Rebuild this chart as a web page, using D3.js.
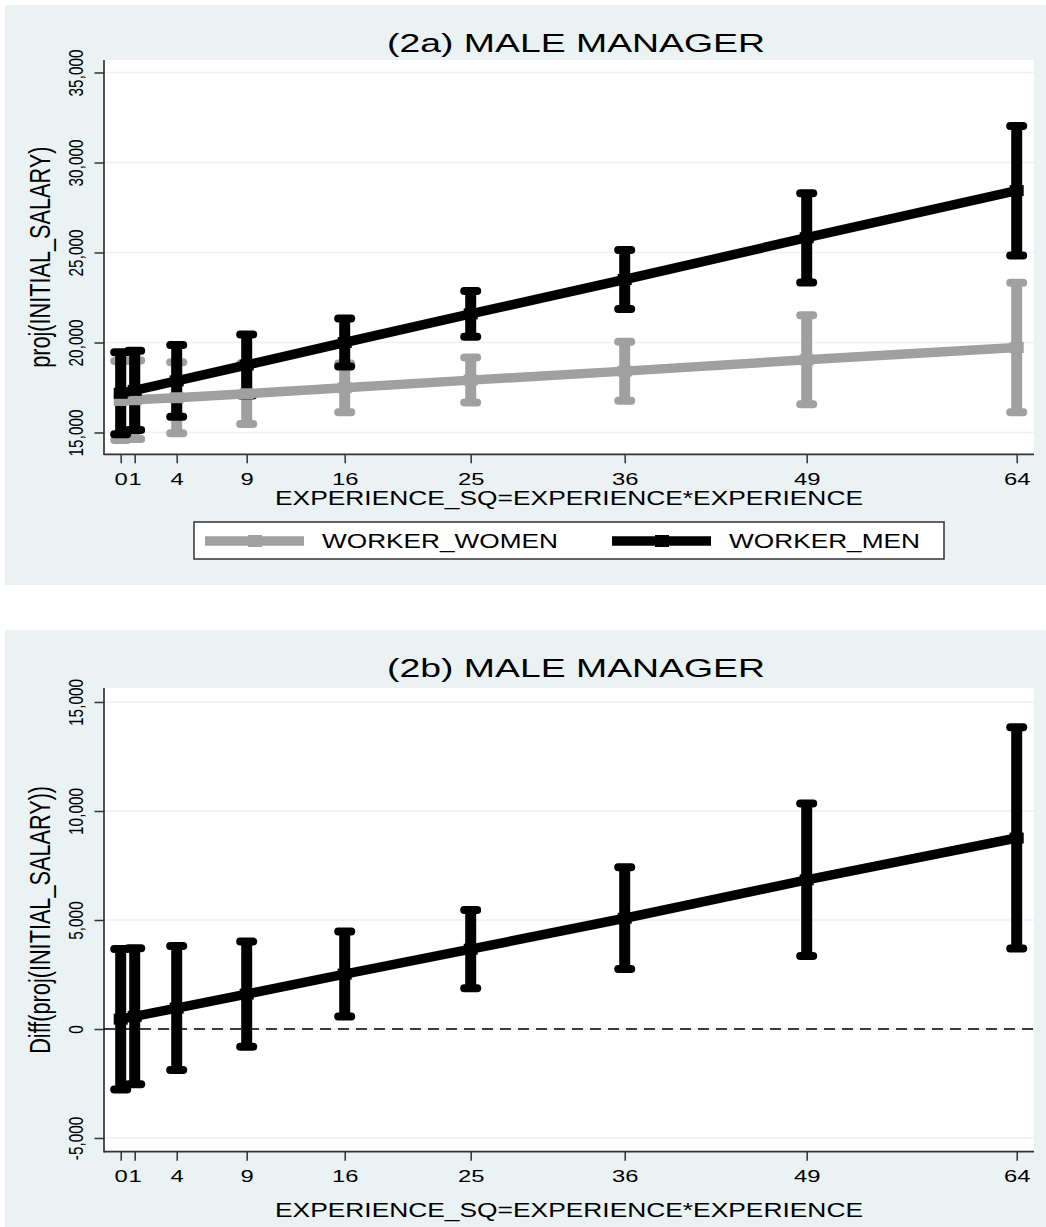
<!DOCTYPE html>
<html>
<head>
<meta charset="utf-8">
<script src="https://cdn.jsdelivr.net/npm/d3@7"></script>
<style>
body { margin: 0; background: #fff; }
text { font-family: "Liberation Sans", Arial, sans-serif; fill: #000; }
</style>
</head>
<body>
<svg id="chart" width="1046" height="1227"></svg>
<script>
// values
const experience = [0, 1, 4, 9, 16, 25, 36, 49, 64];

const womenMean = [16780, 16820, 16930, 17150, 17480, 17910, 18410, 19040, 19720];
const womenLo   = [14580, 14640, 14960, 15470, 16120, 16660, 16770, 16570, 16120];
const womenHi   = [18970, 19000, 18900, 18830, 18840, 19160, 20040, 21510, 23320];

const menMean = [17180, 17340, 17870, 18750, 20000, 21590, 23500, 25820, 28440];
const menLo   = [14900, 15140, 15880, 17050, 18660, 20320, 21860, 23340, 24840];
const menHi   = [19460, 19540, 19860, 20450, 21340, 22860, 25140, 28290, 32030];

const diffMean = [450, 580, 960, 1600, 2520, 3660, 5080, 6840, 8760];
const diffLo   = [-2770, -2540, -1880, -810, 570, 1870, 2750, 3350, 3690];
const diffHi   = [3670, 3700, 3810, 4010, 4470, 5460, 7420, 10340, 13840];

const yTicksTop = [15000, 20000, 25000, 30000, 35000];
const yTicksBottom = [-5000, 0, 5000, 10000, 15000];
const legendLabels = ["WORKER_WOMEN", "WORKER_MEN"];

const BG = "#eaf2f3", GREY = "#a0a0a0", BLACK = "#000", AXIS = "#333";
const SX = 1.4;   // the source picture is stretched sideways

const fmt = d3.formatLocale({decimal: ".", thousands: ",", grouping: [3], currency: ["", ""], minus: "-"}).format(",");
const svg = d3.select("#chart");

const plotLeft = 104, plotRight = 1034;
const x = d3.scaleLinear().domain([0, 64]).range([120.7, 1016.7]);

function wideText(g, str, px, py, size, width, anchor) {
  return g.append("text")
    .attr("x", px).attr("y", py)
    .attr("font-size", size)
    .attr("text-anchor", anchor || "middle")
    .attr("textLength", width)
    .attr("lengthAdjust", "spacingAndGlyphs")
    .text(str);
}

function panel(o) {
  const g = svg.append("g");
  g.append("rect").attr("x", 5).attr("y", o.top).attr("width", 1041).attr("height", o.bottom - o.top).attr("fill", BG);
  g.append("rect").attr("x", plotLeft).attr("y", o.plotTop)
    .attr("width", plotRight - plotLeft).attr("height", o.plotBottom - o.plotTop).attr("fill", "#fff");

  // grid
  g.selectAll(".grid").data(o.ticks).enter().append("line")
    .attr("x1", plotLeft).attr("x2", plotRight)
    .attr("y1", d => o.y(d)).attr("y2", d => o.y(d))
    .attr("stroke", BG).attr("stroke-width", 1.5);

  // y axis
  const ya = g.append("g").attr("transform", `translate(${plotLeft},0)`)
    .call(d3.axisLeft(o.y).tickValues(o.ticks).tickSize(9.5).tickSizeOuter(0).tickFormat(fmt));
  ya.select(".domain").remove();
  ya.selectAll("line").attr("stroke", AXIS).attr("stroke-width", 1.5);
  ya.selectAll("text")
    .attr("x", null).attr("dy", null)
    .attr("font-size", 15.3).attr("fill", "#000")
    .attr("font-family", '"Liberation Sans", Arial, sans-serif')
    .attr("text-anchor", "middle")
    .attr("transform", `translate(-20.7,0) scale(${SX - 0.03},1) rotate(-90)`);

  // x axis
  const xa = g.append("g").attr("transform", `translate(0,${o.plotBottom})`)
    .call(d3.axisBottom(x).tickValues(experience).tickSize(9).tickSizeOuter(0));
  xa.select(".domain").remove();
  xa.selectAll("line").attr("stroke", AXIS).attr("stroke-width", 1.5);
  xa.selectAll("text")
    .attr("y", null).attr("dy", null)
    .attr("font-size", 17).attr("fill", "#000")
    .attr("font-family", '"Liberation Sans", Arial, sans-serif')
    .attr("transform", `translate(0,30.7) scale(${SX},1)`);

  // frame lines
  g.append("line").attr("x1", plotLeft).attr("x2", plotLeft)
    .attr("y1", o.plotTop).attr("y2", o.plotBottom + 0.75)
    .attr("stroke", AXIS).attr("stroke-width", 1.7);
  g.append("line").attr("x1", plotLeft).attr("x2", plotRight)
    .attr("y1", o.plotBottom).attr("y2", o.plotBottom)
    .attr("stroke", AXIS).attr("stroke-width", 1.7);

  // titles
  wideText(g, o.title, 576, o.titleY, 25.5, 378);
  wideText(g, "EXPERIENCE_SQ=EXPERIENCE*EXPERIENCE", 569, o.xTitleY, 19.5, 588);
  g.append("text")
    .attr("font-size", 21.7).attr("text-anchor", "middle")
    .attr("transform", `translate(50,${(o.plotTop + o.plotBottom) / 2}) scale(${SX},1) rotate(-90)`)
    .text(o.yTitle);
  return g;
}

function ciBars(g, y, lo, hi, colour) {
  const d = experience.map((e, i) => ({x: e, lo: lo[i], hi: hi[i]}));
  const bars = g.append("g");
  bars.selectAll(".bar").data(d).enter().append("line")
    .attr("x1", p => x(p.x)).attr("x2", p => x(p.x))
    .attr("y1", p => y(p.lo)).attr("y2", p => y(p.hi))
    .attr("stroke", colour).attr("stroke-width", 11);
  const caps = d.flatMap(p => [{x: p.x, v: p.lo}, {x: p.x, v: p.hi}]);
  bars.selectAll(".cap").data(caps).enter().append("line")
    .attr("x1", p => x(p.x) - 6.5).attr("x2", p => x(p.x) + 6.5)
    .attr("y1", p => y(p.v)).attr("y2", p => y(p.v))
    .attr("stroke", colour).attr("stroke-width", 8).attr("stroke-linecap", "round");
}

function meanLine(g, y, mean, colour) {
  const d = experience.map((e, i) => ({x: e, v: mean[i]}));
  g.append("path").datum(d)
    .attr("d", d3.line().x(p => x(p.x)).y(p => y(p.v)))
    .attr("fill", "none").attr("stroke", colour)
    .attr("stroke-width", 9.5).attr("stroke-linejoin", "round");
  g.selectAll(null).data(d).enter().append("rect")
    .attr("x", p => x(p.x) - 7).attr("y", p => y(p.v) - 5.5)
    .attr("width", 14).attr("height", 11).attr("fill", colour);
}

// (2a)
const yTop = d3.scaleLinear().domain([15000, 35000]).range([432.5, 72.5]);
const gA = panel({top: 5, bottom: 585, plotTop: 60, plotBottom: 454.3, y: yTop, ticks: yTicksTop,
  title: "(2a) MALE MANAGER", titleY: 52, xTitleY: 505, yTitle: "proj(INITIAL_SALARY)"});
ciBars(gA, yTop, womenLo, womenHi, GREY);
ciBars(gA, yTop, menLo, menHi, BLACK);
meanLine(gA, yTop, womenMean, GREY);
meanLine(gA, yTop, menMean, BLACK);

// legend
const leg = gA.append("g");
leg.append("rect").attr("x", 194).attr("y", 522).attr("width", 750).attr("height", 37)
  .attr("fill", "#fff").attr("stroke", AXIS).attr("stroke-width", 1.5);
const legItems = [
  {label: legendLabels[0], colour: GREY, x0: 205, tx: 322, tw: 236},
  {label: legendLabels[1], colour: BLACK, x0: 612, tx: 729, tw: 191}
];
legItems.forEach(it => {
  leg.append("line").attr("x1", it.x0).attr("x2", it.x0 + 99).attr("y1", 541).attr("y2", 541)
    .attr("stroke", it.colour).attr("stroke-width", 9.5);
  leg.append("rect").attr("x", it.x0 + 50 - 7).attr("y", 541 - 6).attr("width", 14).attr("height", 12)
    .attr("fill", it.colour);
  wideText(leg, it.label, it.tx, 548, 19.5, it.tw, "start");
});

// (2b)
const yBot = d3.scaleLinear().domain([-5000, 15000]).range([1138, 702]);
const gB = panel({top: 630, bottom: 1227, plotTop: 688, plotBottom: 1151.7, y: yBot, ticks: yTicksBottom,
  title: "(2b) MALE MANAGER", titleY: 677, xTitleY: 1217, yTitle: "Diff(proj(INITIAL_SALARY))"});
gB.append("line").attr("x1", plotLeft).attr("x2", plotRight)
  .attr("y1", yBot(0)).attr("y2", yBot(0))
  .attr("stroke", BLACK).attr("stroke-width", 1.5).attr("stroke-dasharray", "11,7");
ciBars(gB, yBot, diffLo, diffHi, BLACK);
meanLine(gB, yBot, diffMean, BLACK);
</script>
</body>
</html>
